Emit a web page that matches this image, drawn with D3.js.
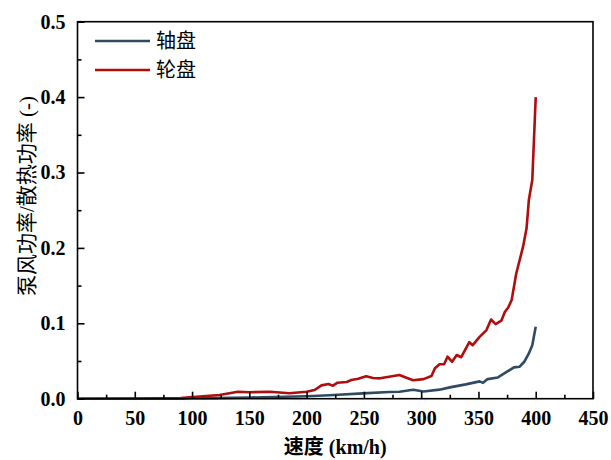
<!DOCTYPE html>
<html><head><meta charset="utf-8">
<script src="https://cdn.jsdelivr.net/npm/d3@7"></script>
<style>body{margin:0;background:#fff}svg{display:block}</style>
</head><body><div id="chart"></div>
<script>
// Data
const seriesNames = ["轴盘", "轮盘"];
const axleSpeed = [0, 90, 100, 118, 150, 162, 200, 220, 249, 272, 281, 293, 302, 316, 325, 339, 351, 354, 358, 367, 375, 381, 386, 390, 394, 397, 400];
const axleValue = [0, 0, 0.0005, 0.0008, 0.0015, 0.0019, 0.0033, 0.0045, 0.0071, 0.0089, 0.0093, 0.0118, 0.0095, 0.012, 0.015, 0.019, 0.023, 0.021, 0.026, 0.0282, 0.0358, 0.0416, 0.0424, 0.049, 0.06, 0.071, 0.0955];
const wheelSpeed = [0, 50, 90, 98, 124, 140, 150, 168, 185, 200, 207, 213, 219, 223, 227, 235, 239, 245, 252, 258, 264, 272, 281, 286, 293, 302, 309, 312, 316, 320, 323, 327, 331, 335, 342, 345, 351, 357, 361, 365, 370, 373, 376, 379, 383, 389, 392, 394, 397, 400];
const wheelValue = [0, 0.0003, 0.0008, 0.0019, 0.0049, 0.0093, 0.0085, 0.0093, 0.0072, 0.0093, 0.0115, 0.0177, 0.0195, 0.0173, 0.0212, 0.0222, 0.0248, 0.0265, 0.0297, 0.0275, 0.027, 0.029, 0.0314, 0.0284, 0.0244, 0.026, 0.030, 0.0403, 0.0456, 0.0456, 0.0557, 0.049, 0.058, 0.055, 0.075, 0.071, 0.082, 0.091, 0.105, 0.099, 0.1035, 0.115, 0.121, 0.131, 0.166, 0.202, 0.226, 0.2635, 0.29, 0.40];
const xTicks = [0, 50, 100, 150, 200, 250, 300, 350, 400, 450];
const xMinor = [25, 75, 125, 175, 225, 275, 325, 375, 425];
const yTicks = [0, 0.1, 0.2, 0.3, 0.4, 0.5];
const yMinor = [0.05, 0.15, 0.25, 0.35, 0.45];
const colors = ["#2f4b64", "#b00d0d"];

const W = 611, H = 460;
const m = {left: 77.5, right: 611 - 593, top: 21.7, bottom: 460 - 398.7};
const svg = d3.select("#chart").append("svg").attr("width", W).attr("height", H);
const x = d3.scaleLinear().domain([0, 450]).range([m.left, W - m.right]);
const y = d3.scaleLinear().domain([0, 0.5]).range([H - m.bottom, m.top]);

const latin = "'Liberation Serif','Times New Roman',serif";
const cjk = "'Liberation Serif','Noto Sans CJK SC',serif";

// lines
const line = d3.line().x(d => x(d[0])).y(d => y(d[1]));
const data = [
  d3.zip(axleSpeed, axleValue),
  d3.zip(wheelSpeed, wheelValue)
];
svg.append("path").datum(data[0]).attr("d", line).attr("fill", "none")
  .attr("stroke", colors[0]).attr("stroke-width", 2.6).attr("stroke-linejoin", "round");
svg.append("path").datum(data[1]).attr("d", line).attr("fill", "none")
  .attr("stroke", colors[1]).attr("stroke-width", 2.6).attr("stroke-linejoin", "round");

// frame
svg.append("rect").attr("x", x(0)).attr("y", y(0.5)).attr("width", x(450) - x(0)).attr("height", y(0) - y(0.5))
  .attr("fill", "none").attr("stroke", "#000").attr("stroke-width", 1.6);

// x axis
const xAxis = svg.append("g").attr("transform", `translate(0,${y(0)})`)
  .call(d3.axisBottom(x).tickValues(xTicks).tickSize(-7).tickPadding(12).tickFormat(d3.format("d")));
xAxis.select(".domain").remove();
xAxis.selectAll(".tick line").attr("stroke", "#000").attr("stroke-width", 1.6);
xAxis.selectAll("text").attr("font-family", latin).attr("font-weight", "bold").attr("font-size", 20).attr("fill", "#000");
const xAxisMinor = svg.append("g").attr("transform", `translate(0,${y(0)})`)
  .call(d3.axisBottom(x).tickValues(xMinor).tickSize(-4).tickFormat(""));
xAxisMinor.select(".domain").remove();
xAxisMinor.selectAll(".tick line").attr("stroke", "#000").attr("stroke-width", 1.6);

// y axis
const yAxis = svg.append("g").attr("transform", `translate(${x(0)},0)`)
  .call(d3.axisLeft(y).tickValues(yTicks).tickSize(-7).tickPadding(12).tickFormat(d3.format(".1f")));
yAxis.select(".domain").remove();
yAxis.selectAll(".tick line").attr("stroke", "#000").attr("stroke-width", 1.6);
yAxis.selectAll("text").attr("font-family", latin).attr("font-weight", "bold").attr("font-size", 20).attr("fill", "#000");
const yAxisMinor = svg.append("g").attr("transform", `translate(${x(0)},0)`)
  .call(d3.axisLeft(y).tickValues(yMinor).tickSize(-4).tickFormat(""));
yAxisMinor.select(".domain").remove();
yAxisMinor.selectAll(".tick line").attr("stroke", "#000").attr("stroke-width", 1.6);

// axis titles
svg.append("text").attr("x", (x(0) + x(450)) / 2).attr("y", 454).attr("text-anchor", "middle")
  .attr("font-family", cjk).attr("font-weight", "bold").attr("font-size", 20).text("速度 (km/h)");
svg.append("text").attr("transform", `translate(34,196) rotate(-90)`).attr("text-anchor", "middle")
  .attr("font-family", cjk).attr("font-weight", "normal").attr("font-size", 21)
  .text("泵风功率/散热功率 (-)");

// legend
const leg = svg.append("g");
seriesNames.forEach((name, i) => {
  const ly = 41 + i * 29;
  leg.append("line").attr("x1", 95).attr("x2", 150).attr("y1", ly).attr("y2", ly)
    .attr("stroke", colors[i]).attr("stroke-width", 2.6);
  leg.append("text").attr("x", 156).attr("y", ly).attr("dy", "0.36em")
    .attr("font-family", cjk).attr("font-size", 20).text(name);
});
</script></body></html>
